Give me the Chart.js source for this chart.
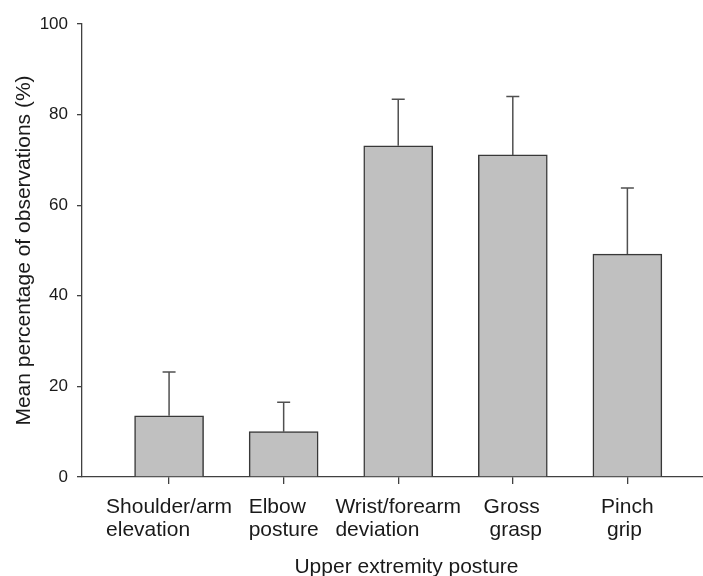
<!DOCTYPE html>
<html>
<head>
<meta charset="utf-8">
<script src="https://cdn.jsdelivr.net/npm/chart.js@4"></script>
<style>
  html, body { margin: 0; padding: 0; background: #fff; }
  #wrap { width: 703px; height: 576px; }
</style>
</head>
<body>
<div id="wrap"><canvas id="chart" width="703" height="576"></canvas></div>
<script>
// ── Data ──────────────────────────────────────────────────────────────
const categories = [
  ['Shoulder/arm', 'elevation'],
  ['Elbow', 'posture'],
  ['Wrist/forearm', 'deviation'],
  ['Gross', ' grasp'],
  ['Pinch', ' grip'],
];
const means  = [13.5, 10.0, 73.1, 71.1, 49.2];
const errors = [9.7, 6.5, 10.3, 12.9, 14.6];
const yTicks = [0, 20, 40, 60, 80, 100];
const xTitle = 'Upper extremity posture';
const yTitle = 'Mean percentage of observations (%)';

const FONT   = '"Liberation Sans", Arial, sans-serif';
const INK    = '#1a1a1a';
const AXIS   = '#404040';

// error bars (upper only) drawn through the y scale
const errorBars = {
  id: 'errorBars',
  afterDatasetsDraw(chart) {
    const { ctx, scales: { x, y } } = chart;
    ctx.save();
    ctx.strokeStyle = '#505050';
    ctx.lineWidth = 1.5;
    means.forEach((m, i) => {
      const px = x.getPixelForValue(i);
      const y0 = y.getPixelForValue(m);
      const y1 = y.getPixelForValue(m + errors[i]);
      ctx.beginPath();
      ctx.moveTo(px, y0); ctx.lineTo(px, y1);
      ctx.moveTo(px - 6.5, y1); ctx.lineTo(px + 6.5, y1);
      ctx.stroke();
    });
    ctx.restore();
  }
};

// category labels: left-aligned block centred on each tick, plus x title
const xLabels = {
  id: 'xLabels',
  afterDraw(chart) {
    const { ctx, scales: { x, y } } = chart;
    ctx.save();
    ctx.fillStyle = INK;
    ctx.font = '21px ' + FONT;
    ctx.textBaseline = 'alphabetic';
    ctx.textAlign = 'left';
    categories.forEach((lines, i) => {
      const w = Math.max(...lines.map(l => ctx.measureText(l).width));
      const left = x.getPixelForValue(i) - w / 2;
      lines.forEach((l, j) => ctx.fillText(l, left, y.bottom + 36 + j * 23));
    });
    ctx.textAlign = 'center';
    ctx.fillText(xTitle, (x.left + x.right) / 2 + 14, y.bottom + 96);
    ctx.restore();
  }
};

new Chart(document.getElementById('chart'), {
  type: 'bar',
  data: {
    datasets: [{
      data: means.map((v, i) => ({ x: i, y: v })),
      backgroundColor: '#c0c0c0',
      borderColor: '#383838',
      borderWidth: 1.5,
      barThickness: 69,
    }]
  },
  options: {
    responsive: false,
    animation: false,
    devicePixelRatio: 1,
    layout: { padding: { top: 24, right: 0, left: 0, bottom: 0 } },
    plugins: { legend: { display: false }, tooltip: { enabled: false } },
    scales: {
      x: {
        type: 'linear',
        min: -0.76, max: 4.66,
        offset: false,
        afterBuildTicks: s => { s.ticks = categories.map((c, i) => ({ value: i })); },
        afterFit: s => { s.height = 99; },
        ticks: { display: false },
        grid: { offset: false, drawOnChartArea: false, drawTicks: true, tickLength: 7, color: AXIS, lineWidth: 1.3 },
        border: { display: true, color: AXIS, width: 1.3 },
      },
      y: {
        min: 0, max: 100,
        afterBuildTicks: s => { s.ticks = yTicks.map(v => ({ value: v })); },
        afterFit: s => { s.width = 82; },
        ticks: { color: INK, font: { family: FONT, size: 17 }, padding: 9 },
        grid: { drawOnChartArea: false, drawTicks: true, tickLength: 5, color: AXIS, lineWidth: 1.3 },
        border: { display: true, color: AXIS, width: 1.3 },
        title: {
          display: true, text: yTitle, color: INK,
          font: { family: FONT, size: 21, lineHeight: 1 },
          padding: { top: 13.5, bottom: 0 },
        },
      }
    }
  },
  plugins: [errorBars, xLabels]
});
</script>
</body>
</html>
